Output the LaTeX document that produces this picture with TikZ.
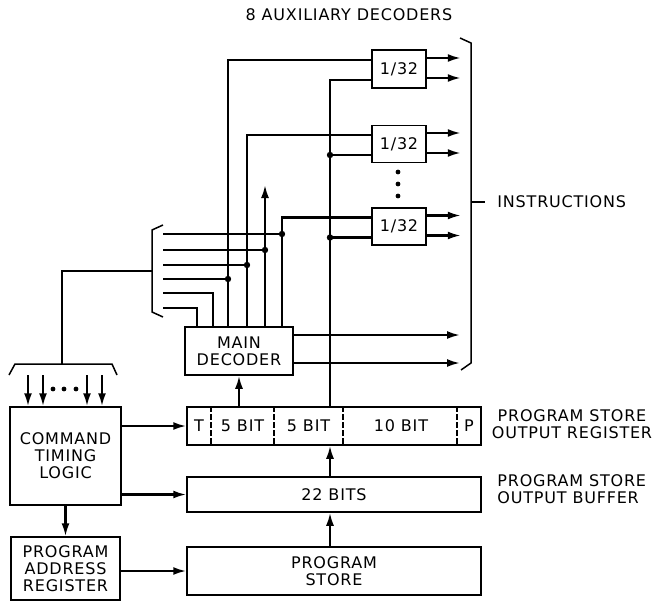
\documentclass[tikz,border=0pt]{standalone}
\usepackage{fontspec}
\setmainfont{DejaVu Sans}[LetterSpace=5]
\usetikzlibrary{arrows.meta,calc}

\tikzset{
  blk/.style={draw, line width=1.5bp, inner sep=0pt, align=center},
  arr/.style={-{Latex[length=13bp,width=8bp]}},
}

\begin{document}
\begin{tikzpicture}[x=1bp, y=-1bp, line width=2.2bp, font=\fontsize{16bp}{17bp}\selectfont]
\useasboundingbox (0,0) rectangle (665,602);
% blocks
\node[blk, minimum width=54bp, minimum height=38bp] (aux1) at (399,69) {1/32};
\node[blk, minimum width=54bp, minimum height=37bp] (aux2) at (399,144) {1/32};
\node[blk, minimum width=54bp, minimum height=37bp] (aux3) at (399,226.5) {1/32};
\node[blk, minimum width=108bp, minimum height=48bp] (dec) at (239,351) {MAIN\\DECODER};
\node[blk, minimum width=294bp, minimum height=38bp] (reg) at (334,426) {};
\node[blk, minimum width=294bp, minimum height=35bp] (buf) at (334,494.5) {22 BITS};
\node[blk, minimum width=294bp, minimum height=48bp] (store) at (334,571) {PROGRAM\\STORE};
\node[blk, minimum width=111bp, minimum height=98bp] (ctl) at (65.5,456) {COMMAND\\TIMING\\LOGIC};
\node[blk, minimum width=109bp, minimum height=63bp] (par) at (65.5,568.5) {PROGRAM\\ADDRESS\\REGISTER};
% register fields
\foreach \x in {211,274,343,457} {
  \draw[line width=1.2bp, dash pattern=on 6bp off 2bp] (reg.north -| \x,0) -- (reg.south -| \x,0);
}
\foreach \x/\l in {199/T,242.5/5 BIT,308.5/5 BIT,401/10 BIT,469/P} {
  \node at (\x,426) {\l};
}
% texts
\node (title) at (349,15) {8 AUXILIARY DECODERS};
\node[anchor=west] (instr) at (493,202) {INSTRUCTIONS};
\node[align=center] (reglbl) at (572,424) {PROGRAM STORE\\OUTPUT REGISTER};
\node[align=left, anchor=west] (buflbl) at (493,489) {PROGRAM STORE\\OUTPUT BUFFER};
% columns
\coordinate (v1) at (228,0);
\coordinate (v2) at (247,0);
\coordinate (v3) at (265,0);
\coordinate (v4) at (282,0);
\coordinate (col) at (330,0);
\coordinate (bl) at (163,0);
\coordinate (ix) at (460,0);
% decoder inputs and outputs
\foreach \n in {1,2,3} {
  \coordinate (up\n) at ($(aux\n.west)+(0,-9)$);
  \coordinate (lo\n) at ($(aux\n.west)+(0,11)$);
  \draw[arr] ($(aux\n.east)+(0,-11)$) -- ++(34,0);
  \draw[arr] ($(aux\n.east)+(0,9)$) -- ++(34,0);
}
\foreach \y in {172,184,196} \fill (398,\y) circle (2.4bp);
\draw (dec.north -| v1) |- (up1);
\draw (dec.north -| v2) |- (up2);
\draw[arr] (dec.north -| v3) -- (v3 |- 0,185);
\draw (dec.north -| v4) |- (up3);
% 5 bit field to the auxiliary decoders
\draw (reg.north -| col) |- (lo1);
\draw (col |- lo2) -- (lo2);
\draw (col |- lo3) -- (lo3);
\fill (col |- lo2) circle (3.2bp);
\fill (col |- lo3) circle (3.2bp);
% line bundle
\foreach \y/\v in {234/v4,250/v3,265/v2,279/v1} {
  \draw (bl |- 0,\y) -- (\v |- 0,\y);
  \fill (\v |- 0,\y) circle (3.2bp);
}
\draw (bl |- 0,293) -| (dec.north -| 213,0);
\draw (bl |- 0,308) -| (dec.north -| 197,0);
\draw[line width=1.5bp] (163,225) -- (152,230) -- (152,312) -- (163,317);
\draw (152,271) -- (62,271) -- (62,364);
% bracket into timing logic
\draw[line width=1.5bp] (9,375) -- (15,364) -- (112,364) -- (117,375);
\foreach \x in {28,43,87,102} {
  \draw[arr] (\x,375) -- (ctl.north -| \x,0);
}
\foreach \x in {53,64,76} \fill (\x,389) circle (2.4bp);
% main decoder outputs
\draw[arr] (dec.east |- 0,335) -- (ix |- 0,335);
\draw[arr] (dec.east |- 0,363) -- (ix |- 0,363);
\draw[line width=1.5bp] (460,38) -- (471,43) -- (471,363) -- (461,370);
\draw (471,202) -- (485,202);
% register and store paths
\draw[arr] (reg.north -| dec.south) -- (dec.south);
\draw[arr] (buf.north -| col) -- (reg.south -| col);
\draw[arr] (store.north -| col) -- (buf.south -| col);
\draw[arr] (ctl.east |- reg.west) -- (reg.west);
\draw[arr] (ctl.east |- buf.west) -- (buf.west);
\draw[arr] (ctl.south) -- (par.north);
\draw[arr] (par.east |- store.west) -- (store.west);
\end{tikzpicture}
\end{document}
